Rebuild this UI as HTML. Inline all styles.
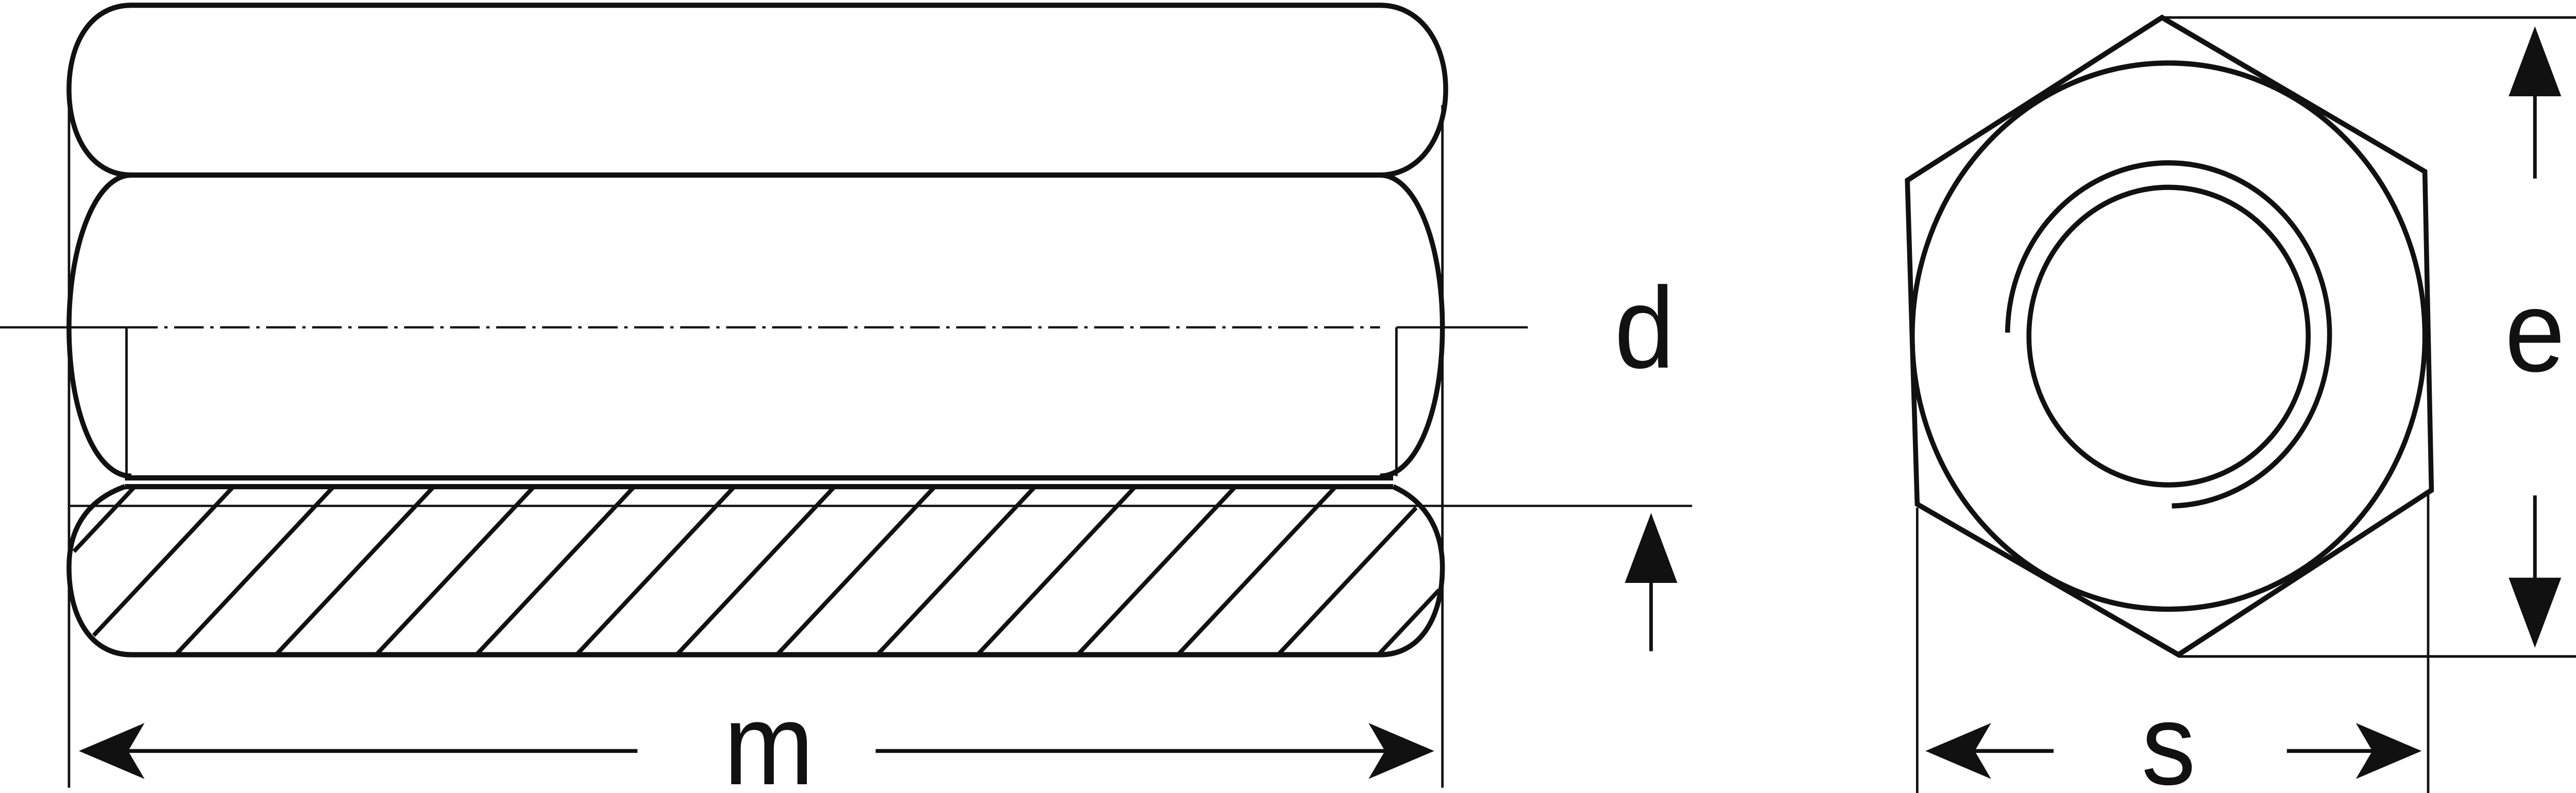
<!DOCTYPE html>
<html><head><meta charset="utf-8"><style>
html,body{margin:0;padding:0;background:#fff;width:100%;height:100%;overflow:hidden;}
svg{display:block;position:fixed;left:0;top:0;width:100vw;height:100vh;}
</style></head><body>
<svg viewBox="0 0 1568 453" preserveAspectRatio="none" xmlns="http://www.w3.org/2000/svg">
<rect width="1568" height="453" fill="#fff"/>
<g fill="none" stroke="#111" stroke-width="3" stroke-linejoin="round">
<path d="M80 3 H840 C865 3 880 25 880 51 C880 77 865 100 840 100 H80 C55 100 42 77 42 51 C42 25 55 3 80 3 Z"/>
<path d="M80 100 C58 100 42 140 42 187 C42 235 58 272 80 272"/>
<path d="M840 100 C862 100 878 140 878 187 C878 235 862 272 840 272"/>
<line x1="76" y1="273" x2="848" y2="273"/>
<path d="M80 374 H840 C865 374 878 352 878 324 C878 300 865 285 848 278 M80 374 C55 374 42 352 42 324 C42 300 55 285 76 278"/>
<line x1="76" y1="278" x2="848" y2="278"/>
</g>
<g stroke="#111" stroke-width="2.2" fill="none">
<line x1="42" y1="60" x2="42" y2="450" stroke-width="1.5"/>
<line x1="878" y1="60" x2="878" y2="450" stroke-width="1.5"/>
<line x1="0" y1="187" x2="78" y2="187" stroke-width="1.3"/>
<line x1="78" y1="187" x2="840" y2="187" stroke-width="1.3" stroke-dasharray="18 4 2 4"/>
<line x1="850" y1="187" x2="930" y2="187" stroke-width="1.3"/>
<line x1="77" y1="187" x2="77" y2="272" stroke-width="1.5"/>
<line x1="850" y1="187" x2="850" y2="272" stroke-width="1.5"/>
<line x1="42" y1="289" x2="1030" y2="289" stroke-width="1.3"/>
<g stroke-width="2.5">
<line x1="82" y1="278" x2="45" y2="315"/>
<line x1="142" y1="278" x2="57" y2="363"/>
<line x1="203" y1="278" x2="107" y2="374"/>
<line x1="264" y1="278" x2="168" y2="374"/>
<line x1="325" y1="278" x2="229" y2="374"/>
<line x1="386" y1="278" x2="290" y2="374"/>
<line x1="447" y1="278" x2="351" y2="374"/>
<line x1="508" y1="278" x2="412" y2="374"/>
<line x1="569" y1="278" x2="473" y2="374"/>
<line x1="630" y1="278" x2="534" y2="374"/>
<line x1="691" y1="278" x2="595" y2="374"/>
<line x1="752" y1="278" x2="656" y2="374"/>
<line x1="813" y1="278" x2="717" y2="374"/>
<line x1="862" y1="290" x2="778" y2="374"/>
<line x1="876" y1="337" x2="839" y2="374"/>
</g>
<line x1="1005" y1="320" x2="1005" y2="372"/>
<line x1="75" y1="429" x2="388" y2="429"/>
<line x1="533" y1="429" x2="845" y2="429"/>
</g>
<g fill="#111">
<polygon points="1005,293 989,333 1021,333"/>
<polygon points="48,429 88,413 78,429 88,445"/>
<polygon points="873,429 833,413 843,429 833,445"/>
</g>
<g font-family="Liberation Sans, sans-serif" fill="#111" text-anchor="middle">
<text x="1001" y="210" font-size="66">d</text>
<text x="468" y="448" font-size="66">m</text>
<text x="1543" y="212" font-size="66">e</text>
<text x="1320" y="448" font-size="66">s</text>
</g>
<g fill="none" stroke="#111" stroke-width="3">
<polygon points="1316,10 1476,98 1480,280 1326,374 1167,288 1161,103"/>
<circle cx="1320" cy="192" r="156"/>
<circle cx="1320" cy="192" r="85"/>
<path d="M1222 190 A98 98 0 1 1 1322 289"/>
</g>
<g stroke="#111" stroke-width="1.5" fill="none">
<line x1="1316" y1="10" x2="1568" y2="10"/>
<line x1="1326" y1="375" x2="1568" y2="375"/>
<line x1="1167" y1="290" x2="1167" y2="453"/>
<line x1="1478" y1="282" x2="1478" y2="453"/>
<line x1="1543" y1="45" x2="1543" y2="102" stroke-width="2.2"/>
<line x1="1543" y1="283" x2="1543" y2="340" stroke-width="2.2"/>
<line x1="1200" y1="429" x2="1250" y2="429" stroke-width="2.2"/>
<line x1="1392" y1="429" x2="1445" y2="429" stroke-width="2.2"/>
</g>
<g fill="#111">
<polygon points="1543,15 1527,55 1559,55"/>
<polygon points="1543,370 1527,330 1559,330"/>
<polygon points="1172,429 1212,413 1202,429 1212,445"/>
<polygon points="1474,429 1434,413 1444,429 1434,445"/>
</g>
</svg>
</body></html>
